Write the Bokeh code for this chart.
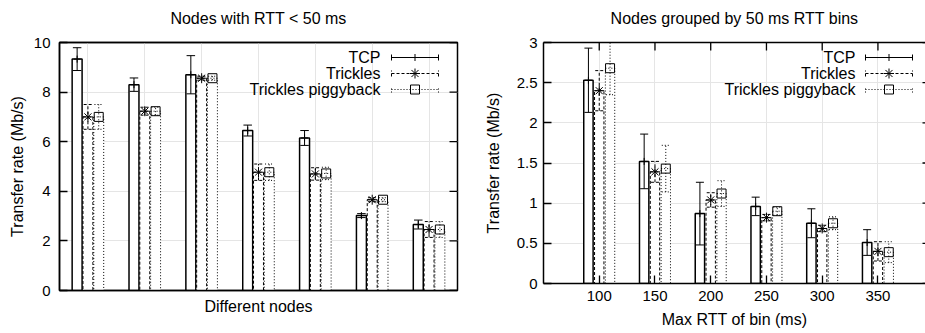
from bokeh.plotting import figure
from bokeh.models import Range1d, LinearAxis, FixedTicker, ColumnDataSource
from bokeh.layouts import row
from bokeh.embed import file_html
from bokeh.resources import INLINE
from bokeh.core.properties import value

FONT = "Liberation Sans"

series_names = ["TCP", "Trickles", "Trickles piggyback"]

# ---- Left panel: nodes with RTT < 50 ms ----
node_index = [0, 1, 2, 3, 4, 5, 6]
nodes_tcp = [9.33, 8.30, 8.70, 6.45, 6.15, 3.02, 2.66]
nodes_tcp_err = [0.46, 0.27, 0.77, 0.22, 0.30, 0.08, 0.18]
nodes_trickles = [7.00, 7.23, 8.56, 4.77, 4.70, 3.66, 2.46]
nodes_trickles_err = [0.50, 0.16, 0.08, 0.33, 0.25, 0.08, 0.32]
nodes_piggy = [7.00, 7.23, 8.56, 4.77, 4.72, 3.66, 2.46]
nodes_piggy_err = [0.50, 0.16, 0.08, 0.33, 0.25, 0.08, 0.32]
left_y_ticks = [0, 2, 4, 6, 8, 10]
left_y_tick_labels = ["0", "2", "4", "6", "8", "10"]

# ---- Right panel: nodes grouped by 50 ms RTT bins ----
rtt_bins = [100, 150, 200, 250, 300, 350]
rtt_bin_labels = ["100", "150", "200", "250", "300", "350"]
bins_tcp = [2.53, 1.52, 0.87, 0.96, 0.75, 0.51]
bins_tcp_err = [0.40, 0.34, 0.39, 0.115, 0.18, 0.16]
bins_trickles = [2.40, 1.39, 1.04, 0.82, 0.685, 0.40]
bins_trickles_err = [0.25, 0.13, 0.09, 0.04, 0.04, 0.12]
bins_piggy = [2.68, 1.43, 1.12, 0.90, 0.75, 0.39]
bins_piggy_err = [0.33, 0.29, 0.16, 0.05, 0.08, 0.13]
right_y_ticks = [0, 0.5, 1, 1.5, 2, 2.5, 3]
right_y_tick_labels = ["0", "0.5", "1", "1.5", "2", "2.5", "3"]

STYLES = [
    dict(dash="solid", lw=1.5, marker="cross", msize=7),
    dict(dash="3 2", lw=1.0, marker="asterisk", msize=10),
    dict(dash="1 2", lw=1.0, marker="square", msize=9),
]

H = 333
TOP = 42


def style_axis(ax, ticks, labels):
    ax.ticker = FixedTicker(ticks=list(ticks))
    ax.major_label_overrides = {t: l for t, l in zip(ticks, labels)}
    ax.major_label_text_font_size = "15px"
    ax.major_tick_in = 8
    ax.major_tick_out = 0
    ax.minor_tick_line_color = None
    ax.major_tick_line_color = "black"
    ax.major_tick_line_width = 1.3
    ax.axis_line_color = "black"
    ax.axis_line_width = 1.5
    ax.major_label_text_font = FONT
    ax.major_label_text_color = "black"
    ax.axis_label_text_font = FONT
    ax.axis_label_text_font_size = "16px"
    ax.axis_label_text_font_style = "normal"
    ax.axis_label_text_color = "black"


def title_axis(text):
    # top frame edge carrying the panel title above it
    ax = LinearAxis(axis_label=text)
    style_axis(ax, [], [])
    ax.axis_label_standoff = 16
    return ax


def make_fig(width, x_range, y_range, bl, br, bb):
    p = figure(width=width, height=H, x_range=x_range, y_range=y_range,
               output_backend="svg", toolbar_location=None,
               x_axis_location=None, y_axis_location=None,
               min_border_left=bl, min_border_right=br,
               min_border_top=TOP, min_border_bottom=bb)
    p.frame_align = False
    p.background_fill_color = "white"
    p.border_fill_color = "white"
    return p


def mirror_ticks_y(p, fw, ticks, x_edge, length_px, direction):
    xr = p.x_range
    dx = length_px * (xr.end - xr.start) / fw * direction
    p.segment(x0=[x_edge] * len(ticks), y0=list(ticks), x1=[x_edge + dx] * len(ticks),
              y1=list(ticks), line_color="black", line_width=1.3)


def mirror_ticks_x(p, fh, ticks, y_edge, length_px):
    yr = p.y_range
    dy = length_px * (yr.end - yr.start) / fh
    p.segment(x0=list(ticks), y0=[y_edge] * len(ticks), x1=list(ticks),
              y1=[y_edge - dy] * len(ticks), line_color="black", line_width=1.3)


def add_series(p, xs, vals, errs, shift, bar_w, cap_half, st):
    xc = [x + shift for x in xs]
    src = ColumnDataSource(dict(
        x=xc,
        l=[x - bar_w / 2 for x in xc],
        r=[x + bar_w / 2 for x in xc],
        top=vals,
        lo=[v - e for v, e in zip(vals, errs)],
        hi=[v + e for v, e in zip(vals, errs)],
        cl=[x - cap_half for x in xc],
        cr=[x + cap_half for x in xc],
    ))
    p.quad(left="l", right="r", bottom=0, top="top", source=src,
           fill_color="white", line_color="black", line_width=st["lw"], line_dash=st["dash"])
    kw = dict(source=src, line_color="black", line_width=1.0, line_dash=st["dash"])
    p.segment(x0="x", y0="lo", x1="x", y1="hi", **kw)
    p.segment(x0="cl", y0="hi", x1="cr", y1="hi", **kw)
    p.segment(x0="cl", y0="lo", x1="cr", y1="lo", **kw)
    p.scatter(x="x", y="top", source=src, marker=st["marker"], size=st["msize"],
              fill_color=None, line_color="black", line_width=1.0)


def add_legend(p, fw, fh, text_px, s0_px, s1_px, row_px):
    xr, yr = p.x_range, p.y_range
    fx = lambda px: xr.start + px * (xr.end - xr.start) / fw
    fy = lambda py: yr.end - py * (yr.end - yr.start) / fh
    cap = 3 * (yr.end - yr.start) / fh
    ys = [fy(r) for r in row_px]
    p.text(x=[fx(text_px)] * 3, y=ys, text=series_names, text_align="right",
           text_baseline="middle", text_font=value(FONT), text_font_size="16px",
           text_color="black")
    x0, x1 = fx(s0_px), fx(s1_px)
    for y, st in zip(ys, STYLES):
        kw = dict(line_color="black", line_width=1.0, line_dash=st["dash"])
        p.segment(x0=[x0], y0=[y], x1=[x1], y1=[y], **kw)
        p.segment(x0=[x0, x1], y0=[y - cap] * 2, x1=[x0, x1], y1=[y + cap] * 2, **kw)
        p.scatter(x=[(x0 + x1) / 2], y=[y], marker=st["marker"], size=st["msize"],
                  fill_color=None, line_color="black", line_width=1.0)


# ---- Left figure ----
W1, BL1, BR1, BB1 = 465, 59, 8, 43
x1r, y1r = Range1d(-0.5, 6.5), Range1d(0, 10)
p1 = make_fig(W1, x1r, y1r, BL1, BR1, BB1)
fw1, fh1 = W1 - BL1 - BR1, H - TOP - BB1
p1.outline_line_color = "black"
p1.outline_line_width = 1.5
ly = LinearAxis(axis_label="Transfer rate (Mb/s)")
style_axis(ly, left_y_ticks, left_y_tick_labels)
ly.major_label_standoff = 9
ly.axis_label_standoff = 5
p1.add_layout(ly, "left")
bx = LinearAxis(axis_label="Different nodes")
style_axis(bx, [], [])
bx.axis_label_standoff = 7
p1.add_layout(bx, "below")
p1.add_layout(title_axis("Nodes with RTT < 50 ms"), "above")
mirror_ticks_y(p1, fw1, left_y_ticks, x1r.end, 8, -1)

left_data = [(nodes_tcp, nodes_tcp_err), (nodes_trickles, nodes_trickles_err), (nodes_piggy, nodes_piggy_err)]
for k, ((v, e), st) in enumerate(zip(left_data, STYLES)):
    add_series(p1, node_index, v, e, (k - 1) * 0.19, 0.175, 0.075, st)
add_legend(p1, fw1, fh1, 321, 332, 379, [15, 31, 47])

# ---- Right figure ----
W2, BL2, BR2, BB2 = 460, 78, 0, 50
x2r, y2r = Range1d(50, 392.66), Range1d(0, 3)
p2 = make_fig(W2, x2r, y2r, BL2, BR2, BB2)
fw2, fh2 = W2 - BL2 - BR2, H - TOP - BB2
p2.outline_line_color = None
ly2 = LinearAxis(axis_label="Transfer rate (Mb/s)")
style_axis(ly2, right_y_ticks, right_y_tick_labels)
ly2.major_label_standoff = 6
ly2.axis_label_standoff = 12
p2.add_layout(ly2, "left")
bx2 = LinearAxis(axis_label="Max RTT of bin (ms)")
style_axis(bx2, rtt_bins, rtt_bin_labels)
bx2.major_label_standoff = 7
bx2.axis_label_standoff = 7
p2.add_layout(bx2, "below")
p2.add_layout(title_axis("Nodes grouped by 50 ms RTT bins"), "above")
mirror_ticks_x(p2, fh2, rtt_bins, y2r.end, 8)
mirror_ticks_y(p2, fw2, right_y_ticks, x2r.end, 3, -1)

right_data = [(bins_tcp, bins_tcp_err), (bins_trickles, bins_trickles_err), (bins_piggy, bins_piggy_err)]
for k, ((v, e), st) in enumerate(zip(right_data, STYLES)):
    add_series(p2, rtt_bins, v, e, (k - 1) * 9.7, 8.4, 3.6, st)
add_legend(p2, fw2, fh2, 312, 322, 369, [15, 31, 47])

layout = row(p1, p2)
open("out.html", "w").write(file_html(layout, INLINE))
